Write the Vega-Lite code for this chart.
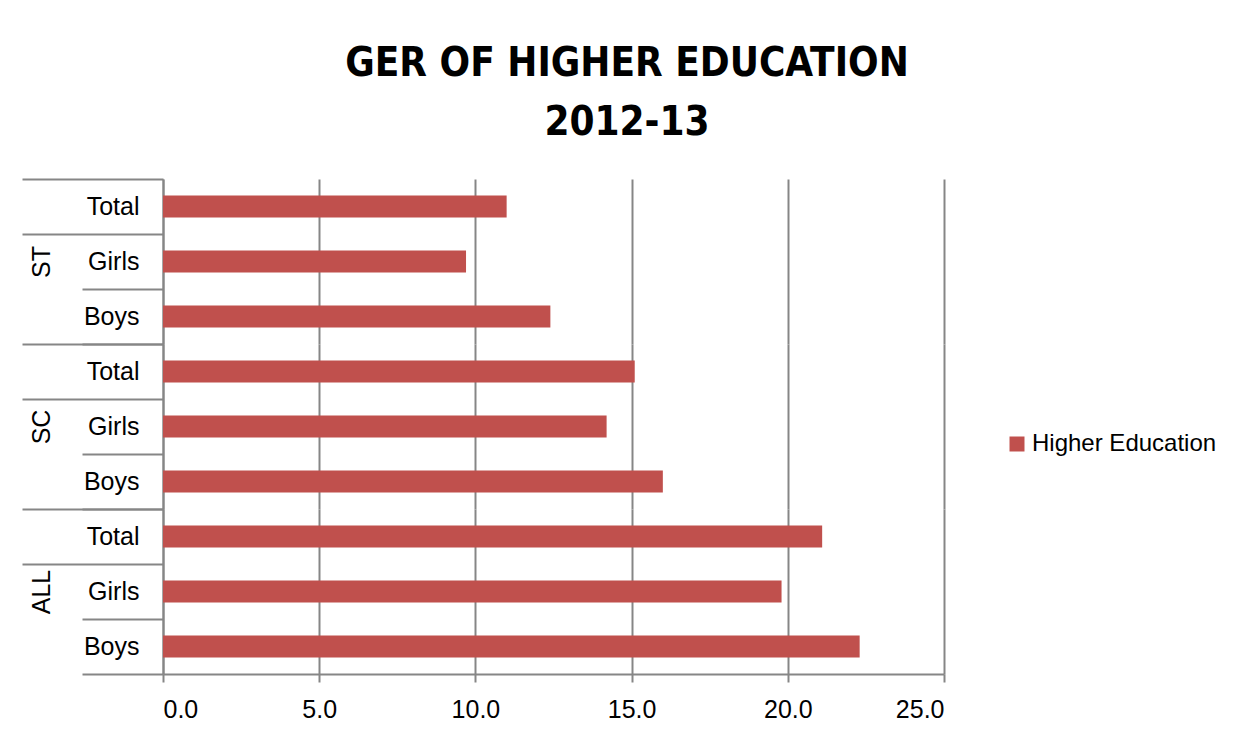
{
  "$schema": "https://vega.github.io/schema/vega-lite/v6.json",
  "background": "white",
  "padding": {"left": 21, "top": 44, "right": 20, "bottom": 10},
  "bounds": "flush",
  "spacing": 0,
  "title": {
    "text": ["GER OF HIGHER EDUCATION", "2012-13"],
    "font": "DejaVu Sans Condensed, Roboto",
    "fontSize": 40,
    "fontWeight": "bold",
    "color": "black",
    "anchor": "middle",
    "lineHeight": 59,
    "offset": 24,
    "dx": 8
  },
  "datasets": {
    "ger": [
      {"group": "ST", "sub": "Total", "value": 11.0},
      {"group": "ST", "sub": "Girls", "value": 9.7},
      {"group": "ST", "sub": "Boys", "value": 12.4},
      {"group": "SC", "sub": "Total", "value": 15.1},
      {"group": "SC", "sub": "Girls", "value": 14.2},
      {"group": "SC", "sub": "Boys", "value": 16.0},
      {"group": "ALL", "sub": "Total", "value": 21.1},
      {"group": "ALL", "sub": "Girls", "value": 19.8},
      {"group": "ALL", "sub": "Boys", "value": 22.3}
    ]
  },
  "vconcat": [
    {
      "width": 781, "height": 165,
      "data": {"name": "ger"},
      "transform": [{"filter": "datum.group === 'ST'"}],
      "mark": {"type": "bar", "height": {"band": 0.4}},
      "encoding": {
        "y": {"field": "sub", "type": "nominal", "sort": ["Total", "Girls", "Boys"],
          "scale": {"type": "band", "paddingInner": 0, "paddingOuter": 0},
          "axis": {"title": "ST", "titleX": -122, "titleY": 82.5}},
        "x": {"field": "value", "type": "quantitative", "scale": {"domain": [0, 25]},
          "axis": {"title": null, "labels": false, "ticks": false, "domain": false, "grid": true, "values": [0, 5, 10, 15, 20, 25]}},
        "color": {"datum": "Higher Education", "type": "nominal"}
      }
    },
    {
      "width": 781, "height": 165,
      "data": {"name": "ger"},
      "transform": [{"filter": "datum.group === 'SC'"}],
      "mark": {"type": "bar", "height": {"band": 0.4}},
      "encoding": {
        "y": {"field": "sub", "type": "nominal", "sort": ["Total", "Girls", "Boys"],
          "scale": {"type": "band", "paddingInner": 0, "paddingOuter": 0},
          "axis": {"title": "SC", "titleX": -122, "titleY": 82.5}},
        "x": {"field": "value", "type": "quantitative", "scale": {"domain": [0, 25]},
          "axis": {"title": null, "labels": false, "ticks": false, "domain": false, "grid": true, "values": [0, 5, 10, 15, 20, 25]}},
        "color": {"datum": "Higher Education", "type": "nominal"}
      }
    },
    {
      "width": 781, "height": 165,
      "data": {"name": "ger"},
      "transform": [{"filter": "datum.group === 'ALL'"}],
      "mark": {"type": "bar", "height": {"band": 0.4}},
      "encoding": {
        "y": {"field": "sub", "type": "nominal", "sort": ["Total", "Girls", "Boys"],
          "scale": {"type": "band", "paddingInner": 0, "paddingOuter": 0},
          "axis": {"title": "ALL", "titleX": -122, "titleY": 82.5}},
        "x": {"field": "value", "type": "quantitative", "scale": {"domain": [0, 25]},
          "axis": {"title": null, "grid": true, "values": [0, 5, 10, 15, 20, 25], "format": ".1f",
            "ticks": true, "tickSize": 8, "tickColor": "#868686", "tickWidth": 2,
            "domain": true, "domainColor": "#868686", "domainWidth": 2,
            "labelPadding": 15, "labelFont": "Liberation Sans", "labelFontSize": 25, "labelColor": "black"}},
        "color": {"datum": "Higher Education", "type": "nominal"}
      }
    }
  ],
  "resolve": {"scale": {"color": "shared"}},
  "config": {
    "view": {"stroke": null},
    "range": {"category": ["#C0504D"]},
    "bar": {"color": "#C0504D"},
    "axisX": {"gridColor": "#868686", "gridWidth": 2, "gridOpacity": 1},
    "axisY": {
      "titleAngle": -90, "titleAlign": "center", "titleBaseline": "middle",
      "titleFont": "Liberation Sans", "titleFontSize": 25, "titleFontWeight": "normal", "titleColor": "black",
      "domain": true, "domainColor": "#868686", "domainWidth": 2,
      "ticks": true, "tickBand": "extent", "tickColor": "#868686", "tickWidth": 2,
      "tickSize": {"condition": {"test": "datum.value === 'Girls' || datum.value === 'Boys'", "value": 81}, "value": 141},
      "labelPadding": {"condition": {"test": "datum.value === 'Girls' || datum.value === 'Boys'", "value": -57}, "value": -117},
      "labelAlign": "right", "labelBaseline": "middle",
      "labelFont": "Liberation Sans", "labelFontSize": 25, "labelColor": "black",
      "grid": false
    },
    "legend": {
      "orient": "none", "legendX": 842, "legendY": 253,
      "title": null,
      "symbolType": "square", "symbolSize": 225, "symbolStrokeWidth": 0, "symbolOpacity": 1,
      "labelFont": "Liberation Sans", "labelFontSize": 24, "labelColor": "black", "labelOffset": 3, "labelLimit": 400
    }
  }
}
